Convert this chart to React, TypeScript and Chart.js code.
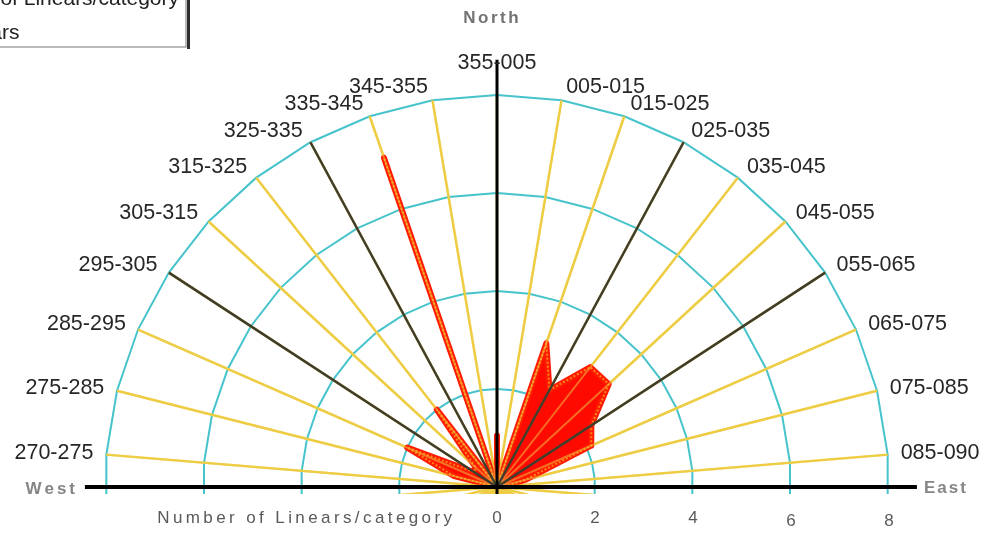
import React, { useEffect, useRef } from 'react';
import { Chart, registerables } from 'chart.js';

Chart.register(...registerables);

// ---- data ----
const categories = [
  '270-275', '275-285', '285-295', '295-305', '305-315', '315-325', '325-335', '335-345', '345-355',
  '355-005', '005-015', '015-025', '025-035', '035-045', '045-055', '055-065', '065-075', '075-085', '085-090',
];
const linearCounts = [0, 0.9, 2.0, 0.55, 0.6, 2.0, 0, 7.1, 0, 1.05, 0, 3.1, 2.25, 3.1, 3.1, 2.3, 2.1, 0.6, 0.2];
const majorDirections = ['025-035', '055-065', '295-305', '325-335'];
const ringValues = [2, 4, 6, 8];
const tickLabels = [0, 2, 4, 6, 8];

const SPOKES = 38; // radar categories around the full circle (lower half blank)
const FIRST_SPOKE = 29; // spoke index of '270-275'
const R_MAX = 8;

const spokeAngle = (i: number) => (i * 2 * Math.PI) / SPOKES;
const catAngle = (k: number) => spokeAngle((FIRST_SPOKE + k) % SPOKES);
const polar = (r: number, a: number) => ({ x: r * Math.sin(a), y: r * Math.cos(a) });

const PX = 49; // pixels per unit
const CX = 497;
const CY = 487;
const W = 995;
const H = 533;
const AREA_BOTTOM = 494;

function drawSpaced(ctx: CanvasRenderingContext2D, text: string, x: number, y: number, spacing: number, align: 'left' | 'right' | 'center') {
  let total = 0;
  const widths = Array.from(text).map((ch) => ctx.measureText(ch).width);
  widths.forEach((w, i) => { total += w + (i < widths.length - 1 ? spacing : 0); });
  let sx = align === 'left' ? x : align === 'right' ? x - total : x - total / 2;
  const prev = ctx.textAlign;
  ctx.textAlign = 'left';
  Array.from(text).forEach((ch, i) => {
    ctx.fillText(ch, sx, y);
    sx += widths[i] + spacing;
  });
  ctx.textAlign = prev;
}

const textPlugin = {
  id: 'roseText',
  afterDraw(chart: any) {
    const ctx: CanvasRenderingContext2D = chart.ctx;
    const xs = chart.scales.x;
    const ys = chart.scales.y;
    const cx = xs.getPixelForValue(0);
    const cy = ys.getPixelForValue(0);
    const rpx = xs.getPixelForValue(R_MAX) - cx;
    ctx.save();

    // category labels
    ctx.font = '21.5px "Liberation Sans", Arial, sans-serif';
    ctx.fillStyle = '#262626';
    ctx.textBaseline = 'middle';
    categories.forEach((c, k) => {
      const a = catAngle(k);
      const s = Math.sin(a);
      const co = Math.cos(a);
      const R = rpx + 10;
      let px = cx + R * s;
      let py = cy - R * co;
      if (Math.abs(s) < 0.01) {
        ctx.textAlign = 'center';
        py -= 22;
      } else if (s > 0) {
        ctx.textAlign = 'left';
        px += 3;
        py -= co * 3;
      } else {
        ctx.textAlign = 'right';
        px -= 3;
        py -= co * 3;
      }
      ctx.fillText(c, px, py);
    });

    // compass words
    ctx.font = 'bold 17px "Liberation Sans", Arial, sans-serif';
    ctx.fillStyle = '#737373';
    drawSpaced(ctx, 'North', cx - 6, cy - rpx - 77, 2.5, 'center');
    ctx.fillStyle = '#858585';
    drawSpaced(ctx, 'West', cx - rpx - 30, cy + 2, 3, 'right');
    drawSpaced(ctx, 'East', cx + rpx + 35, cy + 1, 2, 'left');

    // axis title and ticks
    ctx.font = '17px "Liberation Sans", Arial, sans-serif';
    ctx.fillStyle = '#5a5a5a';
    drawSpaced(ctx, 'Number of Linears/category', cx - 45, cy + 31, 3.4, 'right');
    tickLabels.forEach((t) => {
      drawSpaced(ctx, String(t), xs.getPixelForValue(t), cy + 31 + (t >= 6 ? 3 : 0), 0, 'center');
    });

    // legend box (partly outside the picture)
    ctx.fillStyle = '#ffffff';
    ctx.fillRect(-10, -20, 196, 67);
    ctx.strokeStyle = '#777';
    ctx.lineWidth = 1;
    ctx.strokeRect(-10.5, -20.5, 196.5, 67.5);
    ctx.fillStyle = '#2e2e2e';
    ctx.fillRect(187, -20, 3, 69);
    ctx.font = '21px "Liberation Sans", Arial, sans-serif';
    ctx.fillStyle = '#222';
    ctx.textBaseline = 'alphabetic';
    ctx.textAlign = 'right';
    ctx.fillText('Number of Linears/category', 179, 5);
    ctx.fillText('Linears', 19.5, 39);
    ctx.restore();
  },
};

export default function App() {
  const ref = useRef<HTMLCanvasElement | null>(null);

  useEffect(() => {
    if (!ref.current) return;
    const datasets: any[] = [];
    const line = (data: any[], color: string, width: number, order: number, extra: any = {}) => ({
      data,
      showLine: true,
      borderColor: color,
      backgroundColor: color,
      borderWidth: width,
      pointRadius: 0,
      pointHoverRadius: 0,
      tension: 0,
      fill: false,
      order,
      ...extra,
    });

    // grid rings (38-gons)
    ringValues.forEach((r) => {
      const pts = [];
      for (let i = 0; i <= SPOKES; i++) pts.push(polar(r, spokeAngle(i)));
      datasets.push(line(pts, '#46c3cb', 2, 100));
    });

    // spokes
    for (let i = 0; i < SPOKES; i++) {
      datasets.push(line([{ x: 0, y: 0 }, polar(R_MAX, spokeAngle(i))], '#eecd45', 2.5, 90));
    }

    // filled radar of counts
    const poly = [{ x: 0, y: 0 }, ...linearCounts.map((v, k) => polar(v, catAngle(k))), { x: 0, y: 0 }];
    datasets.push(line(poly, '#ff1a00', 6, 80, { fill: 'shape', backgroundColor: '#ff0a00', borderJoinStyle: 'round' }));
    datasets.push(line(poly, 'rgba(255,140,20,0.95)', 2, 75, { borderDash: [2, 2] }));

    // spokes overlay (orange look inside petals)
    for (let i = 0; i < SPOKES; i++) {
      datasets.push(line([{ x: 0, y: 0 }, polar(R_MAX, spokeAngle(i))], 'rgba(238,205,69,0.5)', 2, 70));
    }

    // major direction lines
    majorDirections.forEach((c) => {
      const k = categories.indexOf(c);
      datasets.push(line([{ x: 0, y: 0 }, polar(R_MAX, catAngle(k))], '#3e3c2c', 2.5, 60));
    });

    // axes
    datasets.push(line([{ x: -8.41, y: 0 }, { x: 8.57, y: 0 }], '#000000', 4, 40));
    datasets.push(line([{ x: 0, y: -0.2 }, { x: 0, y: 8.72 }], '#000000', 3, 40));

    const chart = new Chart(ref.current, {
      type: 'scatter',
      data: { datasets },
      options: {
        animation: false,
        responsive: false,
        devicePixelRatio: 1,
        layout: { padding: { left: 0, right: 0, top: 0, bottom: H - AREA_BOTTOM } },
        plugins: { legend: { display: false }, tooltip: { enabled: false } },
        events: [],
        scales: {
          x: { type: 'linear', display: false, min: -CX / PX, max: (W - CX) / PX },
          y: { type: 'linear', display: false, min: -(AREA_BOTTOM - CY) / PX, max: CY / PX },
        },
      },
      plugins: [textPlugin],
    });
    return () => chart.destroy();
  }, []);

  return (
    <div style={{ position: 'absolute', left: 0, top: 0, width: W, height: H, background: '#fff' }}>
      <canvas ref={ref} width={W} height={H} style={{ display: 'block' }} />
    </div>
  );
}
